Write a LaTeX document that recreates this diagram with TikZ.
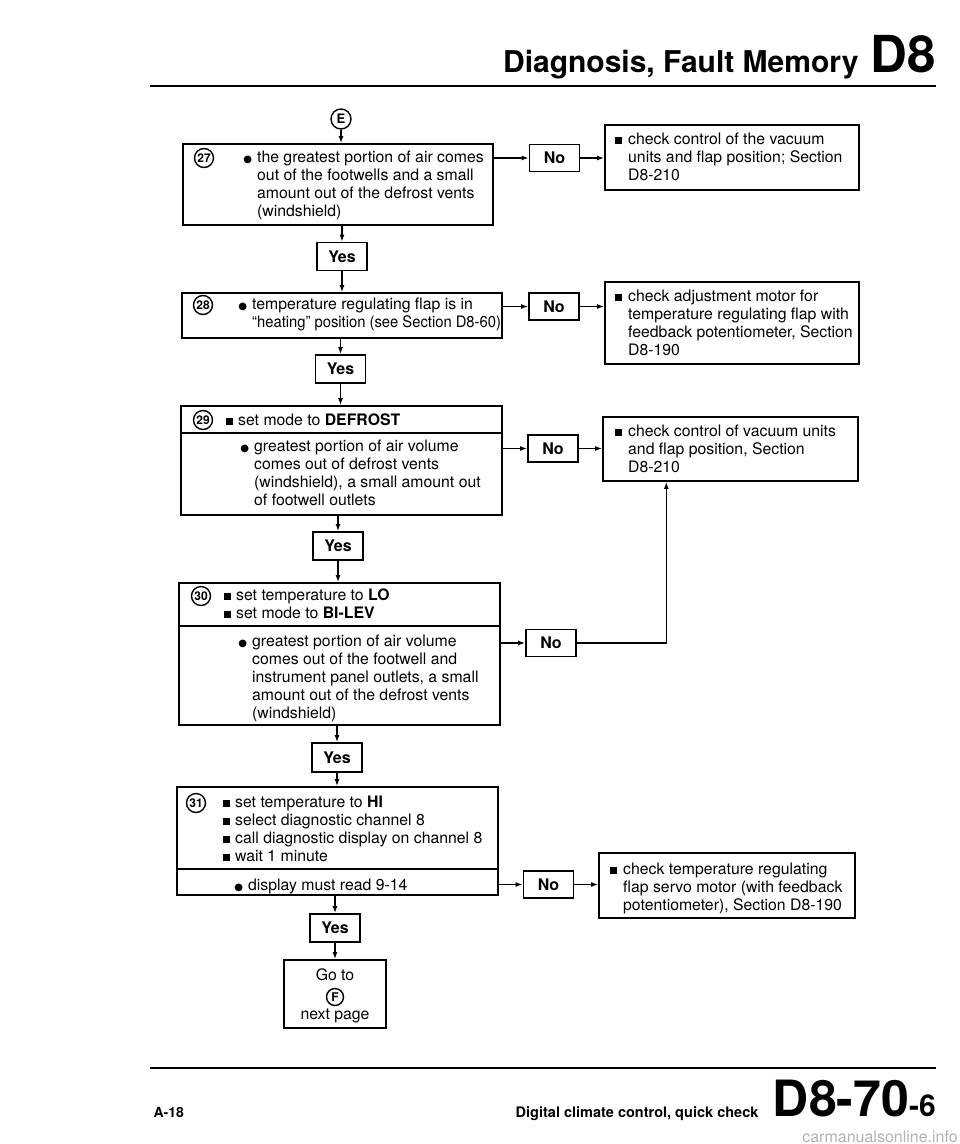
\documentclass[tikz,border=0pt]{standalone}
\usepackage{fontspec}
\setmainfont{TeX Gyre Heros}
\newfontfamily\symfont{DejaVu Sans}
\usepackage{tikz}
\usetikzlibrary{arrows.meta,positioning,calc}
\newcommand{\sqbul}{\rule[0.5pt]{7pt}{7pt}}
\newcommand{\dotbul}{{\symfont\fontsize{10}{10}\selectfont ●}}

\begin{document}
\begin{tikzpicture}[x=1pt,y=-1pt,
  stepbox/.style={draw,line width=1.8pt,inner sep=0pt},
  answer/.style={draw,line width=1.8pt,minimum width=50pt,minimum height=27pt,inner sep=0pt,
                 font=\fontsize{16}{16}\selectfont\bfseries},
  fixbox/.style={draw,line width=1.8pt,inner sep=0pt},
  txt/.style={anchor=north west,inner sep=0pt,align=left,font=\fontsize{15.8}{18}\selectfont,
              execute at begin node=\strut},
  num/.style={draw,circle,line width=1.4pt,inner sep=0pt,minimum size=19pt,
              font=\fontsize{12}{12}\selectfont\bfseries},
  link/.style={-{Latex[length=7pt,width=5pt]},line width=1.5pt},
  sepline/.style={line width=1.3pt},
  rulebar/.style={line width=2.8pt}
]
\useasboundingbox (0,0) rectangle (960,1144);

\node[anchor=base east,font=\fontsize{30}{30}\selectfont\bfseries] (title) at (862,72) {Diagnosis, Fault Memory};
\node[anchor=base west,font=\fontsize{51}{51}\selectfont\bfseries] (tag) at (867,72) {D8};
\coordinate (topL) at (150,86);
\coordinate (topR) at (936,86);
\draw[rulebar] (topL) -- (topR);
\node[num,minimum size=20pt,font=\fontsize{13}{13}\selectfont\bfseries] (ce) at (341,119) {E};

% step boxes
\node[stepbox,minimum width=310pt,minimum height=81pt] (s27) at (338,184.5) {};
\node[stepbox,minimum width=320pt,minimum height=45pt] (s28) at (342,315.5) {};
\node[stepbox,minimum width=321pt,minimum height=109pt] (s29) at (341.5,460.5) {};
\node[stepbox,minimum width=321pt,minimum height=142pt] (s30) at (339.5,654) {};
\node[stepbox,minimum width=321pt,minimum height=108pt] (s31) at (337.5,841) {};

\coordinate (sep29) at (0,433);
\coordinate (sep30) at (0,626);
\coordinate (sep31) at (0,869);
\draw[sepline] (s29.west |- sep29) -- (s29.east |- sep29);
\draw[sepline] (s30.west |- sep30) -- (s30.east |- sep30);
\draw[sepline] (s31.west |- sep31) -- (s31.east |- sep31);

\node[num] (c27) at (204,158) {27};
\node[num] (c28) at (203,305) {28};
\node[num] (c29) at (203,420) {29};
\node[num] (c30) at (201,596) {30};
\node[num] (c31) at (196,803) {31};

\node[txt] (t27) at (257,150.4) {\llap{\dotbul\hspace{5pt}}the greatest portion of air comes\\
  out of the footwells and a small\\amount out of the defrost vents\\(windshield)};
\node[txt] (t28) at (252,297.4) {\llap{\dotbul\hspace{5pt}}temperature regulating flap is in\\
  \scalebox{0.935}[1]{``heating'' position (see Section D8-60)}};
\node[txt] (t29h) at (238,412.4) {\llap{\sqbul\hspace{5pt}}set mode to \textbf{DEFROST}};
\node[txt] (t29b) at (254,439.4) {\llap{\dotbul\hspace{5pt}}greatest portion of air volume\\
  comes out of defrost vents\\(windshield), a small amount out\\of footwell outlets};
\node[txt] (t30h) at (236,588.4) {\llap{\sqbul\hspace{5pt}}set temperature to \textbf{LO}\\
  \llap{\sqbul\hspace{5pt}}set mode to \textbf{BI-LEV}};
\node[txt] (t30b) at (252,634.4) {\llap{\dotbul\hspace{5pt}}greatest portion of air volume\\
  comes out of the footwell and\\instrument panel outlets, a small\\amount out of the defrost vents\\(windshield)};
\node[txt] (t31h) at (235,795.4) {\llap{\sqbul\hspace{5pt}}set temperature to \textbf{HI}\\
  \llap{\sqbul\hspace{5pt}}select diagnostic channel 8\\
  \llap{\sqbul\hspace{5pt}}call diagnostic display on channel 8\\
  \llap{\sqbul\hspace{5pt}}wait 1 minute};
\node[txt] (t31b) at (248,877.4) {\llap{\dotbul\hspace{5pt}}display must read 9-14};

% answers
\node[answer] (no27) at (554.5,158) {No};
\node[answer] (no28) at (554,306.5) {No};
\node[answer] (no29) at (553,448.5) {No};
\node[answer] (no30) at (551,643) {No};
\node[answer] (no31) at (548.5,884.5) {No};
\node[answer,minimum height=28pt] (yes27) at (342,256.5) {Yes};
\node[answer,minimum height=28pt] (yes28) at (340.5,369) {Yes};
\node[answer,minimum height=28pt] (yes29) at (338,546) {Yes};
\node[answer,minimum height=29pt] (yes30) at (337,757.5) {Yes};
\node[answer,minimum height=28pt] (yes31) at (335,928) {Yes};

% remedies
\node[fixbox,minimum width=254pt,minimum height=65pt] (r1) at (732,157.5) {};
\node[fixbox,minimum width=254pt,minimum height=82pt] (r2) at (732,323) {};
\node[fixbox,minimum width=255pt,minimum height=64pt] (r3) at (730.5,449) {};
\node[fixbox,minimum width=256pt,minimum height=65pt] (r4) at (727,885.5) {};
\node[txt] (r1t) at (628,132.4) {\llap{\sqbul\hspace{6pt}}check control of the vacuum\\
  units and flap position; Section\\D8-210};
\node[txt] (r2t) at (628,289.4) {\llap{\sqbul\hspace{6pt}}check adjustment motor for\\
  temperature regulating flap with\\feedback potentiometer, Section\\D8-190};
\node[txt] (r3t) at (628,424.4) {\llap{\sqbul\hspace{6pt}}check control of vacuum units\\
  and flap position, Section\\D8-210};
\node[txt] (r4t) at (623,862.4) {\llap{\sqbul\hspace{6pt}}check temperature regulating\\
  flap servo motor (with feedback\\potentiometer), Section D8-190};

% exit
\node[fixbox,minimum width=102pt,minimum height=68pt] (go) at (335,994) {};
\node[anchor=base,font=\fontsize{15.8}{18}\selectfont] (gotxt) at (335,980.5) {Go to};
\node[num,minimum size=17pt,font=\fontsize{12}{12}\selectfont\bfseries] (cf) at (335,997) {F};
\node[anchor=base,font=\fontsize{15.8}{18}\selectfont] (nexttxt) at (335,1019) {next page};

\draw[link] (ce) -- (ce |- s27.north);
\draw[link] (s27.east |- no27) -- (no27);
\draw[link] (s28.east |- no28) -- (no28);
\draw[link] (s29.east |- no29) -- (no29);
\draw[link] (s30.east |- no30) -- (no30);
\draw[link] (s31.east |- no31) -- (no31);
\draw[link] (no27) -- (r1.west |- no27);
\draw[link] (no28) -- (r2.west |- no28);
\draw[link] (no29) -- (r3.west |- no29);
\draw[link] (no31) -- (r4.west |- no31);
\coordinate (r3back) at ($(r3.south west)!0.25!(r3.south east)$);
\draw[link] (no30) -| (r3back);
\foreach \a/\b in {27/28,28/29,29/30,30/31}{
  \draw[link] (s\a.south -| yes\a) -- (yes\a);
  \draw[link] (yes\a) -- (yes\a |- s\b.north);
}
\draw[link] (s31.south -| yes31) -- (yes31);
\draw[link] (yes31) -- (yes31 |- go.north);

\coordinate (botL) at (150,1068);
\coordinate (botR) at (936,1068);
\draw[rulebar] (botL) -- (botR);
\node[anchor=base west,font=\fontsize{14}{14}\selectfont\bfseries] (page) at (150,1117) {A-18};
\node[anchor=base east,font=\fontsize{14.5}{14.5}\selectfont\bfseries] (foot) at (762,1117) {Digital climate control, quick check};
\node[anchor=base east,inner sep=0pt,font=\fontsize{50}{50}\selectfont\bfseries] (code) at (936,1116)
  {D8-70{\fontsize{30}{30}\selectfont-6}};
\node[anchor=base east,inner sep=0pt,font=\fontsize{16}{16}\selectfont,text=black!30] (wm) at (958,1142) {carmanualsonline.info};
\end{tikzpicture}
\end{document}
